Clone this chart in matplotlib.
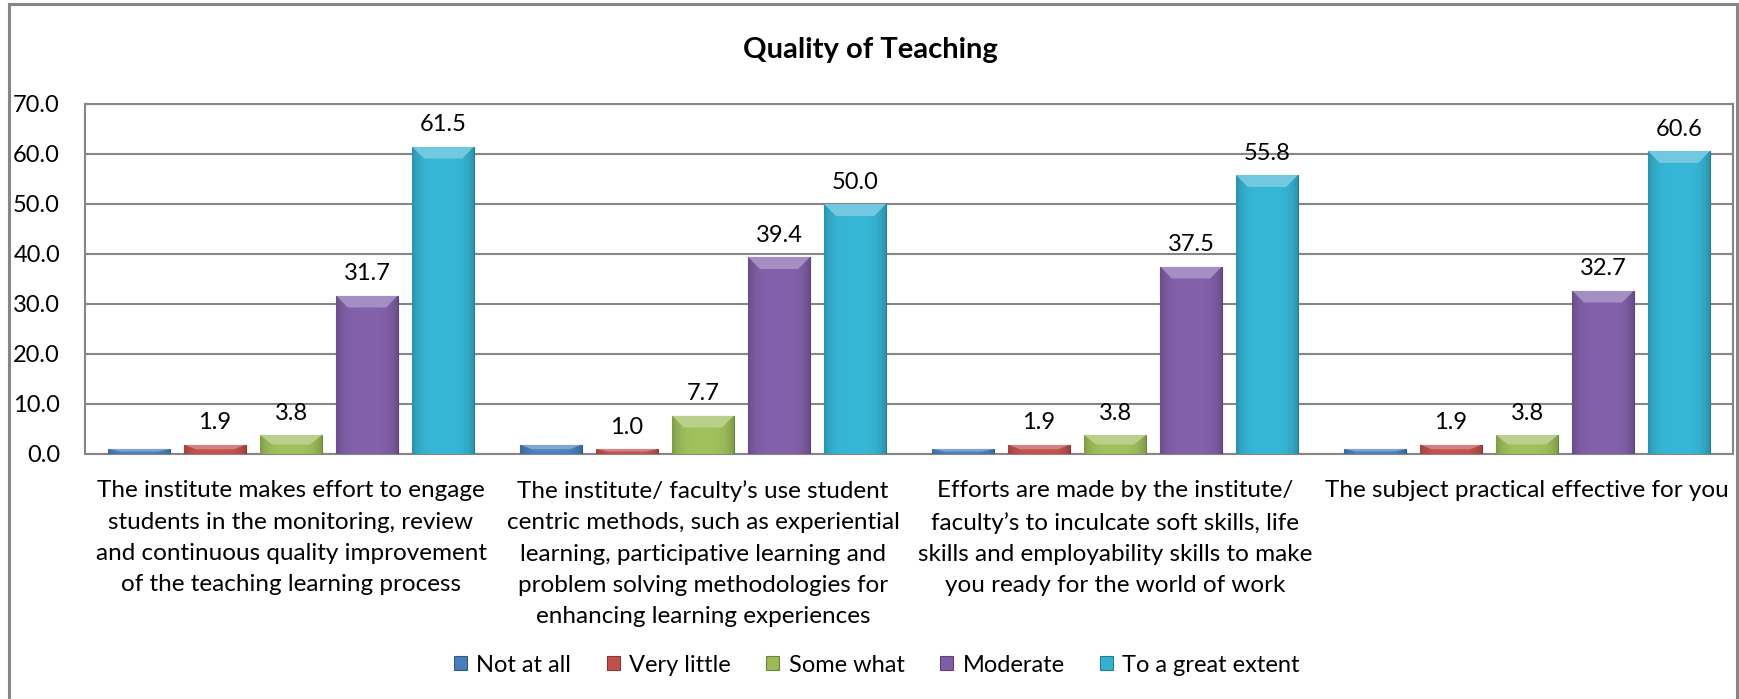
import matplotlib
matplotlib.use("Agg")
import matplotlib.pyplot as plt
import numpy as np
from matplotlib.colors import to_rgb
from matplotlib.lines import Line2D
from matplotlib.patches import Polygon

# ---------------- data ----------------
title = "Quality of Teaching"
categories = [
    "The institute makes effort to engage\nstudents in the monitoring, review\nand continuous quality improvement\nof the teaching learning process",
    "The institute/ faculty\u2019s use student\ncentric methods, such as experiential\nlearning, participative learning and\nproblem solving methodologies for\nenhancing learning experiences",
    "Efforts are made by the institute/\nfaculty\u2019s to inculcate soft skills, life\nskills and employability skills to make\nyou ready for the world of work",
    "The subject practical effective for you",
]
series_names = ["Not at all", "Very little", "Some what", "Moderate", "To a great extent"]
not_at_all = [1.0, 1.9, 1.0, 1.0]
very_little = [1.9, 1.0, 1.9, 1.9]
some_what = [3.8, 7.7, 3.8, 3.8]
moderate = [31.7, 39.4, 37.5, 32.7]
great_extent = [61.5, 50.0, 55.8, 60.6]
show_labels = [False, True, True, True, True]
yticks = [0, 10, 20, 30, 40, 50, 60, 70]

# ---------------- style ----------------
colors = ["#4A7EBB", "#C0504D", "#9BBB59", "#7F5EA6", "#35B1D0"]
FONT = "Lato"
W, H, DPI = 1739, 699, 100
plt.rcParams["font.family"] = [FONT, "DejaVu Sans"]

fig = plt.figure(figsize=(W / DPI, H / DPI), dpi=DPI)
ax = fig.add_axes([85 / W, 1 - 454 / H, (1733 - 85) / W, (454 - 104) / H])

series = [not_at_all, very_little, some_what, moderate, great_extent]
x = np.arange(len(categories))
pitch, width = 0.1845, 0.15


def mix(c, t, k):
    c = np.array(to_rgb(c)); t = np.array(to_rgb(t))
    return tuple(c + (t - c) * k)


for i, (vals, col, name, lab) in enumerate(zip(series, colors, series_names, show_labels)):
    bars = ax.bar(x + (i - 2) * pitch, vals, width, color=col, label=name,
                  edgecolor=mix(col, "black", 0.3), linewidth=0.8, zorder=3)
    for b in bars:
        x0, y0 = b.get_x(), b.get_y()
        w, h = b.get_width(), b.get_height()
        # horizontal shading gradient (darker sides)
        t = np.linspace(-1, 1, 64)
        shade = 1.03 - 0.2 * np.abs(t) ** 4
        base = np.array(to_rgb(col))
        img = np.clip(base[None, :] * shade[:, None], 0, 1)[None, :, :]
        im = ax.imshow(img, extent=[x0, x0 + w, y0, y0 + h], aspect="auto",
                       zorder=3.1, interpolation="bilinear")
        im.set_clip_path(b)
        # top bevel
        dy = min(2.4, h * 0.5)
        dx = w * 0.19
        top = y0 + h
        poly = Polygon([(x0, top), (x0 + w, top), (x0 + w - dx, top - dy), (x0 + dx, top - dy)],
                       closed=True, facecolor=mix(col, "white", 0.3), edgecolor="none", zorder=3.2)
        ax.add_patch(poly)
        poly.set_clip_path(b)
    if lab:
        for b, v in zip(bars, vals):
            ax.annotate(f"{v:.1f}", (b.get_x() + b.get_width() / 2, v),
                        xytext=(0, 15.5), textcoords="offset points",
                        ha="center", va="center", fontsize=17, color="black", zorder=5)

ax.set_xlim(-0.5, len(categories) - 0.5)
ax.set_ylim(0, 70)
ax.set_yticks(yticks)
ax.set_yticklabels([f"{v:.1f}" for v in yticks], fontsize=17)
ax.yaxis.grid(True, color="#868686", linewidth=1.5, zorder=0)
ax.set_axisbelow(True)
ax.tick_params(axis="y", length=0, pad=18)
ax.tick_params(axis="x", length=0, pad=19)
ax.set_xticks(x)
ax.set_xticklabels(categories, fontsize=17.5, linespacing=1.6, va="top")
for s in ax.spines.values():
    s.set_color("#868686")
    s.set_linewidth(1.5)

fig.text(870 / W, 1 - 50 / H, title, ha="center", va="center", fontsize=21, fontweight="bold")

leg = fig.legend(loc="center", bbox_to_anchor=(877 / W, 1 - 665 / H), ncol=5, frameon=False,
                 fontsize=17, handlelength=0.55, handleheight=0.55, handletextpad=0.4,
                 columnspacing=1.5)

# outer chart frame
frame_kw = dict(color="#868686", linewidth=2.2, transform=fig.transFigure)
fig.add_artist(Line2D([8.5 / W, 8.5 / W], [0, 1 - 4 / H], **frame_kw))
fig.add_artist(Line2D([1737 / W, 1737 / W], [0, 1 - 4 / H], **frame_kw))
fig.add_artist(Line2D([8.5 / W, 1737 / W], [1 - 4 / H, 1 - 4 / H], **frame_kw))

fig.savefig("out.png", dpi=DPI)
